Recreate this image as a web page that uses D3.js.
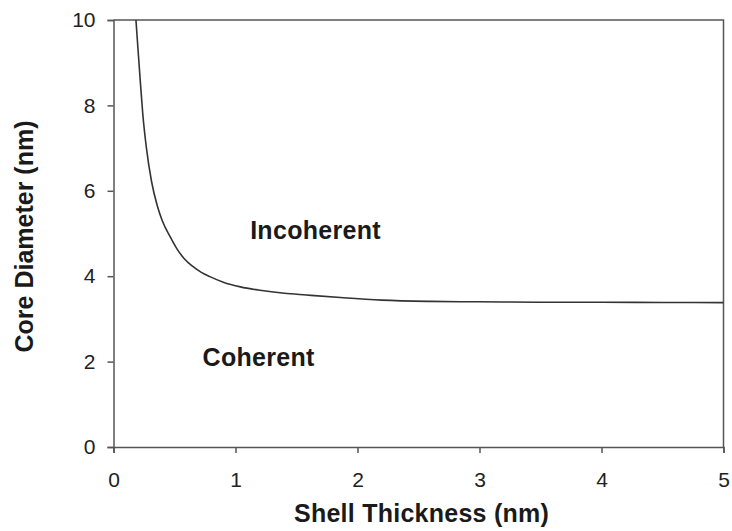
<!DOCTYPE html>
<html>
<head>
<meta charset="utf-8">
<script src="https://cdn.jsdelivr.net/npm/d3@7"></script>
<style>
  html, body { margin: 0; padding: 0; background: #fff; }
  svg { display: block; font-family: "Liberation Sans", Arial, sans-serif; }
</style>
</head>
<body>
<svg id="chart" width="732" height="531"></svg>
<script>
// Critical core diameter separating coherent and incoherent core/shell growth
const shellThickness = [0.184, 0.20, 0.22, 0.24, 0.27, 0.313, 0.36, 0.40, 0.463, 0.52, 0.58, 0.65, 0.72, 0.79, 0.90, 1.04, 1.20, 1.40, 1.58, 1.86, 2.2, 2.6, 3.0, 3.5, 4.0, 4.5, 5.0];
const coreDiameter   = [10.0, 9.35, 8.55, 7.80, 7.00, 6.20, 5.64, 5.30, 4.93, 4.64, 4.41, 4.23, 4.09, 3.99, 3.86, 3.75, 3.67, 3.60, 3.56, 3.50, 3.44, 3.41, 3.40, 3.39, 3.39, 3.385, 3.38];
const xTicks = [0, 1, 2, 3, 4, 5];
const yTicks = [0, 2, 4, 6, 8, 10];
const regionLabels = [
  { text: "Incoherent", x: 1.12, y: 4.86 },
  { text: "Coherent",   x: 0.73, y: 1.90 }
];

const svg = d3.select("#chart");
const plotLeft = 113.5, plotRight = 723.5, plotTop = 20, plotBottom = 447;

const x = d3.scaleLinear().domain([0, 5]).range([plotLeft, plotRight]);
const y = d3.scaleLinear().domain([0, 10]).range([plotBottom, plotTop]);

const axisColor = "#555";

// frame: top and right edges
svg.append("path")
  .attr("d", `M${plotLeft},${plotTop}H${plotRight}V${plotBottom}`)
  .attr("fill", "none")
  .attr("stroke", axisColor)
  .attr("stroke-width", 1.5);

const xAxis = svg.append("g")
  .attr("transform", `translate(0,${plotBottom})`)
  .call(d3.axisBottom(x).tickValues(xTicks).tickFormat(d3.format("d")).tickSizeOuter(0).tickSize(6).tickPadding(19));

const yAxis = svg.append("g")
  .attr("transform", `translate(${plotLeft},0)`)
  .call(d3.axisLeft(y).tickValues(yTicks).tickFormat(d3.format("d")).tickSizeOuter(0).tickSize(6).tickPadding(12));

[xAxis, yAxis].forEach(g => {
  g.select(".domain").attr("stroke", axisColor).attr("stroke-width", 1.5);
  g.selectAll(".tick line").attr("stroke", axisColor).attr("stroke-width", 1.5);
  g.selectAll(".tick text")
    .attr("font-size", 21)
    .attr("font-family", "Liberation Sans, Arial, sans-serif")
    .attr("fill", "#222");
});

// boundary curve
const pts = shellThickness.map((t, i) => [t, coreDiameter[i]]);
svg.append("path")
  .datum(pts)
  .attr("fill", "none")
  .attr("stroke", "#333")
  .attr("stroke-width", 1.6)
  .attr("d", d3.line().x(d => x(d[0])).y(d => y(d[1])).curve(d3.curveMonotoneX));

// region labels
svg.selectAll(".region")
  .data(regionLabels)
  .join("text")
  .attr("class", "region")
  .attr("x", d => x(d.x))
  .attr("y", d => y(d.y))
  .attr("font-size", 25)
  .attr("letter-spacing", 0.3)
  .attr("font-weight", "bold")
  .attr("fill", "#1a1a1a")
  .text(d => d.text);

// axis titles
svg.append("text")
  .attr("x", (plotLeft + plotRight) / 2 + 3)
  .attr("y", 522)
  .attr("text-anchor", "middle")
  .attr("font-size", 25)
  .attr("letter-spacing", 0.25)
  .attr("font-weight", "bold")
  .attr("fill", "#1a1a1a")
  .text("Shell Thickness (nm)");

svg.append("text")
  .attr("transform", `translate(33,${(plotTop + plotBottom) / 2 + 3}) rotate(-90)`)
  .attr("text-anchor", "middle")
  .attr("font-size", 25)
  .attr("font-weight", "bold")
  .attr("fill", "#1a1a1a")
  .text("Core Diameter (nm)");
</script>
</body>
</html>
